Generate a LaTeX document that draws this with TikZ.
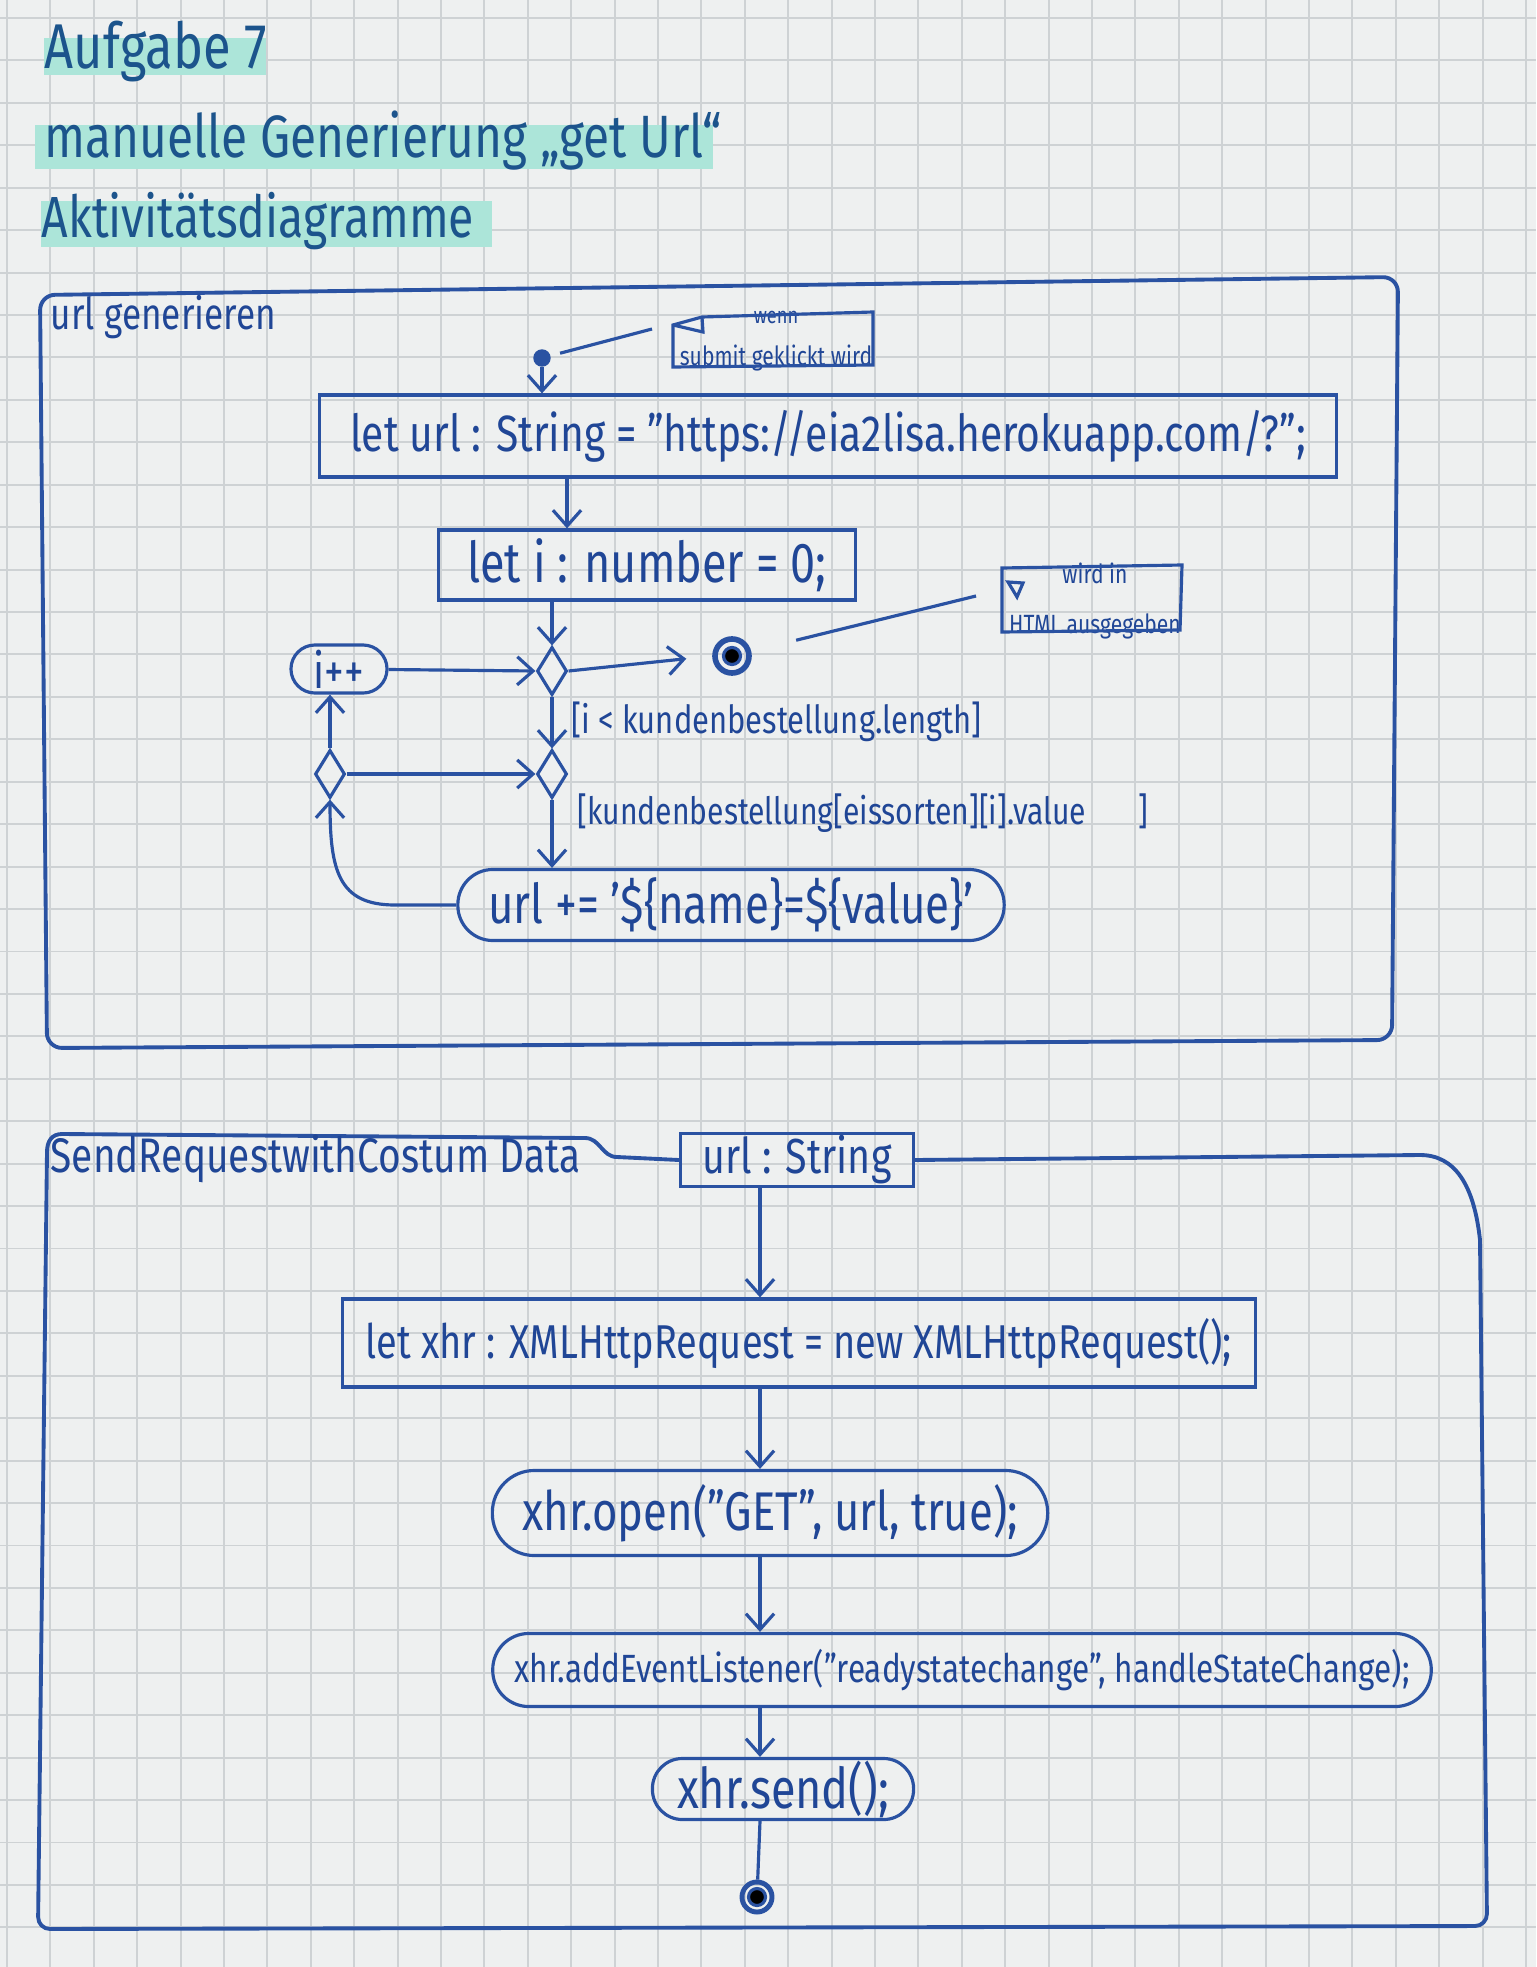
\documentclass[tikz,border=0pt]{standalone}
\usepackage{fontspec}
\setmainfont{Fira Sans}[FakeStretch=0.8]
\usetikzlibrary{arrows.meta,shapes.geometric,calc}
\definecolor{paper}{RGB}{238,240,240}
\definecolor{gridc}{RGB}{206,210,212}
\definecolor{pen}{RGB}{42,82,162}
\definecolor{ink}{RGB}{32,70,150}
\definecolor{hl}{RGB}{172,229,217}
\definecolor{titleink}{RGB}{28,84,140}
\newcommand{\fsz}[1]{\fontsize{#1}{#1}\selectfont}
\begin{document}
\begin{tikzpicture}[x=0.01cm,y=-0.01cm,
  pen/.style={draw=pen,line width=0.9pt},
  framepen/.style={draw=pen,line width=1.1pt,line join=round},
  arr/.style={pen,-{Straight Barb[length=4.5pt,width=8pt,line width=0.9pt]}},
  lbl/.style={text=ink,inner sep=0pt},
  title/.style={text=titleink,inner sep=0pt,anchor=base west},
  actbox/.style={pen,rectangle,inner sep=0pt,text=ink},
  stadium/.style={pen,rectangle,rounded corners=#1,inner sep=0pt,text=ink},
  dia/.style={pen,diamond,minimum width=0.3cm,minimum height=0.48cm,inner sep=0pt},
  startnode/.style={circle,fill=pen,draw=pen,minimum size=0.16cm,inner sep=0pt},
  finalnode/.style={circle,draw=pen,line width=1.6pt,minimum size=0.34cm,inner sep=0pt,
     path picture={\fill[pen] (path picture bounding box.center) circle (0.085cm);}},
  notebox/.style={inner sep=0pt,text=ink,align=center}
]
\useasboundingbox (0,0) rectangle (1536,1967);
\fill[paper] (0,0) rectangle (1536,1967);
% grid paper
\foreach \i in {0,...,35} \draw[gridc,line width=0.55pt] ({7+43.4*\i},0) -- ({7+43.4*\i},1967);
\foreach \j in {0,...,46} \draw[gridc,line width=0.55pt] (0,{18+42.43*\j}) -- (1536,{18+42.43*\j});

% ---- headings with highlighter
\fill[hl] (44,38) rectangle (266,75);
\fill[hl] (35,125) rectangle (713,169);
\fill[hl] (41,201) rectangle (492,247);
\node[title] (t1) at (44,69) {\fsz{18pt}Aufgabe 7};
\node[title] (t2) at (44,158) {\fsz{17pt}manuelle Generierung „get Url“};
\node[title] (t3) at (41,238) {\fsz{16.5pt}Aktivitätsdiagramme};

% ---- frame 1
\draw[framepen,rounded corners=0.15cm] (40,295) -- (1398,277) -- (1392,1040) -- (47,1048) -- cycle;
\node[lbl,anchor=base west] (f1lbl) at (50,330) {\fsz{12.5pt}url generieren};

\node[startnode] (start) at (542,358) {};
\node[notebox] (n1) at (776,341) {\fsz{6.5pt}wenn\\[0pt]\fsz{7.5pt}submit geklickt wird};
\draw[pen] ($(n1)+(-103,-16)$) -- ($(n1)+(-74,-24)$) -- ($(n1)+(97,-29)$) -- ($(n1)+(97,24)$) -- ($(n1)+(-103,26)$) -- cycle;
\draw[pen] ($(n1)+(-74,-24)$) -- ($(n1)+(-73,-9)$) -- ($(n1)+(-103,-16)$);
\coordinate (n1c) at (652,329);
\draw[pen,shorten <=0.1cm] (start) -- (n1c);

\node[actbox,minimum width=10.16cm,minimum height=0.82cm] (b1) at (828,436)
  {\fsz{14.5pt}let url : String = "https://eia2lisa.herokuapp.com/?";};
\draw[arr] (start) -- (start |- b1.north);

\node[actbox,minimum width=4.17cm,minimum height=0.7cm] (b2) at (647,565)
  {\fsz{16pt}let i : number = 0;};
\coordinate (colA) at (567,0);
\draw[arr] (b1.south -| colA) -- (b2.north -| colA);

\node[dia] (d1) at (552,671) {};
\draw[arr] (b2.south -| d1) -- (d1.north);

\node[stadium=0.24cm,minimum width=0.96cm,minimum height=0.48cm] (ipp) at (339,669) {\fsz{14pt}i++};
\draw[arr] (ipp) -- (d1.west);

\node[finalnode] (fin1) at (732,656) {};
\draw[arr,shorten >=0.26cm] (d1.east) -- (fin1.west);

\node[notebox] (n2) at (1095,601) {\fsz{7.5pt}wird in\\[2pt]\fsz{7.5pt}HTML ausgegeben};
\draw[pen] ($(n2)+(-93,-19)$) -- ($(n2)+(-93,-33)$) -- ($(n2)+(87,-36)$) -- ($(n2)+(85,29)$) -- ($(n2)+(-93,31)$) -- cycle;
\draw[pen] ($(n2)+(-87,-19)$) -- ($(n2)+(-72,-18)$) -- ($(n2)+(-78,-4)$) -- cycle;
\coordinate (n2c) at (976,596);
\draw[pen,shorten <=0.66cm] (fin1.center) -- (n2c);

\node[lbl,anchor=west] (g1) at (571,722) {\fsz{11pt}[i < kundenbestellung.length]};

\node[dia] (d2) at (552,774) {};
\draw[arr] (d1.south) -- (d2.north);

\node[dia] (d3) at (330,774) {};
\draw[arr] (d3.east) -- (d2.west);
\draw[arr] (d3.north) -- (d3.north |- ipp.south);

\node[lbl,anchor=west] (g2) at (577,813) {\fsz{10.7pt}[kundenbestellung[eissorten][i].value\hspace{1.4em}]};

\node[stadium=0.35cm,minimum width=5.46cm,minimum height=0.71cm] (act) at (731,905)
  {\fsz{15.6pt}url += '\$\{name\}=\$\{value\}'};
\draw[arr] (d2.south) -- (d2.south |- act.north);
\draw[arr] (act.west) -- (395,905) .. controls (338,905) and (330,870) .. (d3.south);

% ---- frame 2
\node[actbox,minimum width=2.33cm,minimum height=0.53cm] (url) at (797,1160) {\fsz{14pt}url : String};
\draw[framepen] (url.west) -- (617,1157) .. controls (602,1157) and (600,1138) .. (585,1138)
  -- (62,1134) .. controls (52,1134) and (47,1141) .. (47,1152)
  [rounded corners=0.12cm] -- (38,1929) -- (1487,1926)
  [sharp corners] -- (1480,1240) .. controls (1474,1185) and (1455,1155) .. (1420,1155) -- (url.east);
\node[lbl,anchor=base west] (f2lbl) at (50,1172) {\fsz{13.8pt}SendRequestwithCostum Data};

\coordinate (colB) at (760,0);
\node[actbox,minimum width=9.12cm,minimum height=0.88cm] (xhr) at (799,1343)
  {\fsz{13.5pt}let xhr : XMLHttpRequest = new XMLHttpRequest();};
\draw[arr] (url.south -| colB) -- (xhr.north -| colB);

\node[stadium=0.42cm,minimum width=5.55cm,minimum height=0.85cm] (open) at (770,1513)
  {\fsz{15.5pt}xhr.open("GET", url, true);};
\draw[arr] (xhr.south -| colB) -- (open.north -| colB);

\node[stadium=0.36cm,minimum width=9.38cm,minimum height=0.73cm] (ael) at (962,1670)
  {\fsz{11.2pt}xhr.addEventListener("readystatechange", handleStateChange);};
\draw[arr] (open.south -| colB) -- (ael.north -| colB);

\node[stadium=0.3cm,minimum width=2.61cm,minimum height=0.61cm] (send) at (783,1789)
  {\fsz{16pt}xhr.send();};
\draw[arr] (ael.south -| colB) -- (send.north -| colB);

\node[finalnode,minimum size=0.3cm,line width=1.4pt] (fin2) at (757,1897) {};
\draw[pen] (send.south -| colB) -- (fin2);
\end{tikzpicture}
\end{document}
